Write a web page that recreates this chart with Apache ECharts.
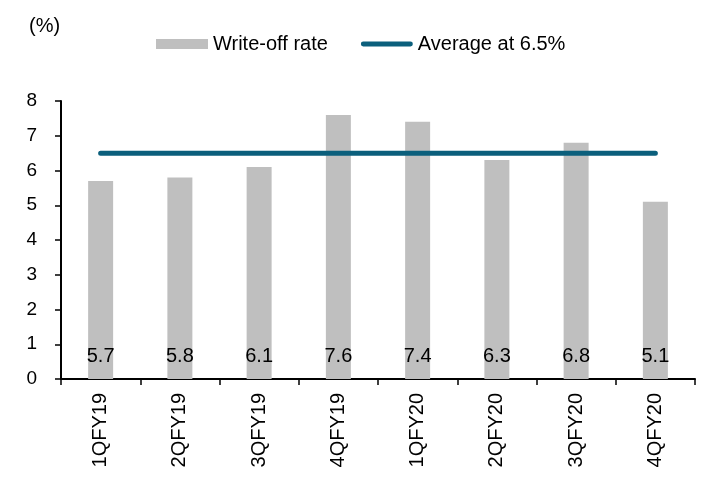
<!DOCTYPE html>
<html>
<head>
<meta charset="utf-8">
<script src="https://cdn.jsdelivr.net/npm/echarts@6/dist/echarts.min.js"></script>
<style>
  html, body { margin: 0; padding: 0; background: #fff; }
  #chart { width: 707px; height: 483px; }
</style>
</head>
<body>
<div id="chart"></div>
<script>
const categories = ['1QFY19', '2QFY19', '3QFY19', '4QFY19', '1QFY20', '2QFY20', '3QFY20', '4QFY20']
const writeOffRate = [5.7, 5.8, 6.1, 7.6, 7.4, 6.3, 6.8, 5.1]
const averageRate = 6.5
const yTicks = [0, 1, 2, 3, 4, 5, 6, 7, 8]

const font = '"Liberation Sans", Arial, sans-serif'
const chart = echarts.init(document.getElementById('chart'))

// rounded thick line for the legend icon
const lineIcon = 'path://M2.5,0 L51.5,0 A2.5,2.5 0 0 1 51.5,5 L2.5,5 A2.5,2.5 0 0 1 2.5,0 Z'

chart.setOption({
  animation: false,
  textStyle: { fontFamily: font, color: '#000' },
  title: {
    text: '(%)',
    left: 24,
    top: 11,
    textStyle: { fontFamily: font, fontSize: 20, fontWeight: 'normal', color: '#000' }
  },
  legend: {
    left: 151,
    top: 29,
    itemWidth: 52,
    itemHeight: 10,
    itemGap: 33,
    textStyle: { fontFamily: font, fontSize: 20, color: '#000' },
    data: [
      { name: 'Write-off rate', icon: 'rect' },
      { name: 'Average at 6.5%', icon: lineIcon }
    ]
  },
  grid: { left: 61, right: 12, top: 101, bottom: 104 },
  xAxis: {
    type: 'category',
    data: categories,
    axisLine: { lineStyle: { color: '#000', width: 2 } },
    axisTick: { show: true, length: 6, interval: 0, lineStyle: { color: '#000', width: 1.5 } },
    axisLabel: { rotate: 90, fontSize: 20, margin: 14, color: '#000', fontFamily: font, interval: 0 }
  },
  yAxis: {
    type: 'value',
    min: yTicks[0],
    max: yTicks[yTicks.length - 1],
    interval: 1,
    splitLine: { show: false },
    axisLine: { show: true, lineStyle: { color: '#000', width: 2 } },
    axisTick: { show: true, length: 6, lineStyle: { color: '#000', width: 1.5 } },
    axisLabel: { fontSize: 19, margin: 24, color: '#000', fontFamily: font }
  },
  series: [
    {
      name: 'Write-off rate',
      type: 'bar',
      data: writeOffRate,
      barWidth: 25,
      itemStyle: { color: '#bfbfbf' },
      label: {
        show: true,
        position: 'insideBottom',
        distance: 13,
        fontSize: 20,
        color: '#000',
        fontFamily: font,
        formatter: (p) => p.value.toFixed(1)
      }
    },
    {
      name: 'Average at 6.5%',
      type: 'line',
      data: categories.map(() => averageRate),
      symbol: 'none',
      lineStyle: { color: '#0b5f7c', width: 5, cap: 'round' },
      itemStyle: { color: '#0b5f7c' }
    }
  ]
})
</script>
</body>
</html>
